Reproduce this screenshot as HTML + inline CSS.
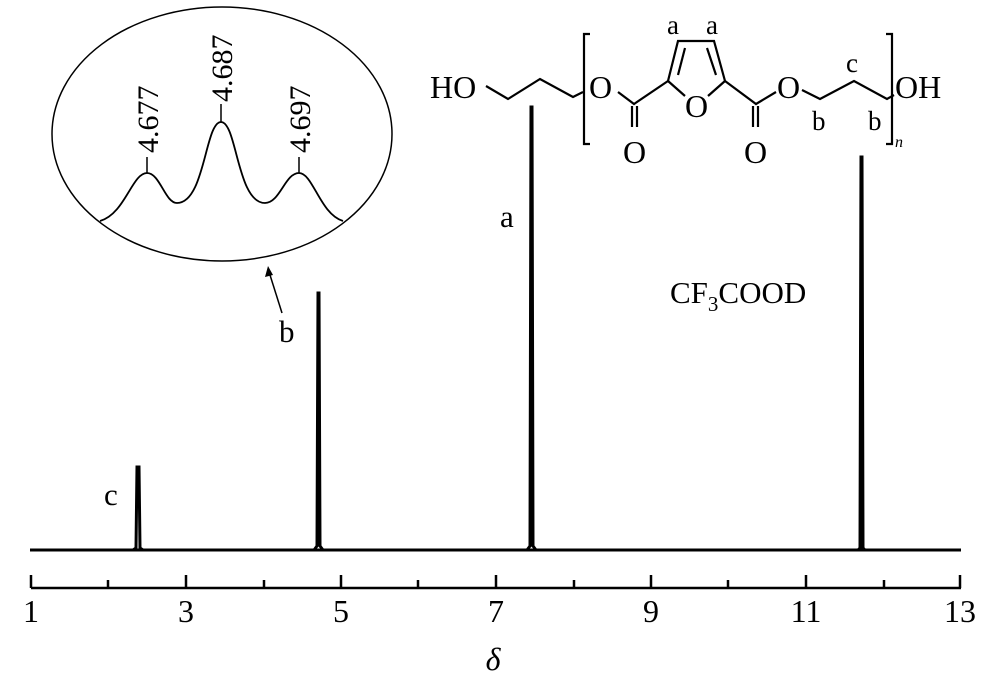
<!DOCTYPE html>
<html><head><meta charset="utf-8"><style>
html,body{margin:0;padding:0;background:#fff;}
svg{display:block;}
text{font-family:"Liberation Serif",serif;fill:#000;}
</style></head><body>
<svg width="1000" height="685" viewBox="0 0 1000 685" xmlns="http://www.w3.org/2000/svg">
<g stroke="#000" stroke-width="3" fill="none">
<line x1="30" y1="550" x2="961" y2="550"/>
<path d="M133 550 L136 548 L137 467 L139 467 L140 548 L143 550"/>
<path d="M314 550 L317 546 L318 293 L319 293 L320 546 L323 550"/>
<path d="M527 550 L530 546 L531 107 L532 107 L533 546 L536 550"/>
<path d="M858 550 L860 548 L861 157 L862 157 L863 548 L865 550"/>
</g>
<g stroke="#000" stroke-width="2.5">
<line x1="31" y1="588" x2="961" y2="588"/>
<line x1="31" y1="575" x2="31" y2="588"/>
<line x1="186" y1="575" x2="186" y2="588"/>
<line x1="341" y1="575" x2="341" y2="588"/>
<line x1="496" y1="575" x2="496" y2="588"/>
<line x1="651" y1="575" x2="651" y2="588"/>
<line x1="806" y1="575" x2="806" y2="588"/>
<line x1="960" y1="575" x2="960" y2="588"/>
<line x1="108" y1="580" x2="108" y2="588"/>
<line x1="264" y1="580" x2="264" y2="588"/>
<line x1="418" y1="580" x2="418" y2="588"/>
<line x1="574" y1="580" x2="574" y2="588"/>
<line x1="728" y1="580" x2="728" y2="588"/>
<line x1="884" y1="580" x2="884" y2="588"/>
</g>
<g font-size="32" text-anchor="middle">
<text x="31" y="622">1</text><text x="186" y="622">3</text><text x="341" y="622">5</text>
<text x="496" y="622">7</text><text x="651" y="622">9</text><text x="806" y="622">11</text><text x="960" y="622">13</text>
<text x="493" y="670" font-style="italic">δ</text>
</g>
<g font-size="31">
<text x="104" y="505">c</text>
<text x="279" y="342">b</text>
<text x="500" y="227">a</text>
<text x="670" y="303">CF<tspan font-size="21" dy="8">3</tspan><tspan dy="-8">COOD</tspan></text>
</g>
<line x1="282" y1="313" x2="270" y2="275" stroke="#000" stroke-width="1.5"/>
<polygon points="268,266 265,277 273,275" fill="#000"/>
<ellipse cx="222" cy="134" rx="170" ry="127" fill="none" stroke="#000" stroke-width="1.5"/>
<path d="M100 221 C125 214 132 173 147 173 C160 173 165 203 177 203 C205 203 205 122 221 122 C237 122 237 203 265 203 C280 203 285 173 299 173 C313 173 320 214 343 221" fill="none" stroke="#000" stroke-width="1.8"/>
<g stroke="#000" stroke-width="1.5">
<line x1="147" y1="173" x2="147" y2="157"/><line x1="221" y1="122" x2="221" y2="104"/><line x1="299" y1="173" x2="299" y2="157"/>
</g>
<g font-size="30">
<text transform="translate(158,153) rotate(-90)">4.677</text>
<text transform="translate(232,102) rotate(-90)">4.687</text>
<text transform="translate(310,153) rotate(-90)">4.697</text>
</g>
<g stroke="#000" stroke-width="2.2" fill="none">
<polyline points="486,86 508,99 540,79 573,97 583,92"/>
<polyline points="590,34 584,34 584,144 590,144"/>
<polyline points="618,92 634,104 668,81"/>
<line x1="632" y1="106" x2="632" y2="127"/><line x1="637" y1="106" x2="637" y2="127"/>
<polyline points="668,81 678,41 714,41 725,81"/>
<line x1="685" y1="48" x2="678" y2="75"/><line x1="707" y1="48" x2="716" y2="75"/>
<line x1="668" y1="81" x2="685" y2="96"/><line x1="725" y1="81" x2="708" y2="96"/>
<polyline points="725,81 756,104 776,92"/>
<line x1="753" y1="106" x2="753" y2="127"/><line x1="758" y1="106" x2="758" y2="127"/>
<polyline points="802,90 820,99 854,81 887,99 894,95"/>
<polyline points="886,34 892,34 892,144 886,144"/>
</g>
<g font-size="32">
<text x="430" y="98">HO</text>
<text x="589" y="98">O</text>
<text x="623" y="163">O</text>
<text x="685" y="117">O</text>
<text x="744" y="163">O</text>
<text x="777" y="98">O</text>
<text x="895" y="98">OH</text>
<text x="667" y="34" font-size="27">a</text>
<text x="706" y="34" font-size="27">a</text>
<text x="846" y="72" font-size="27">c</text>
<text x="812" y="130" font-size="27">b</text>
<text x="868" y="130" font-size="27">b</text>
<text x="895" y="147" font-size="16" font-style="italic">n</text>
</g>
</svg>
</body></html>
